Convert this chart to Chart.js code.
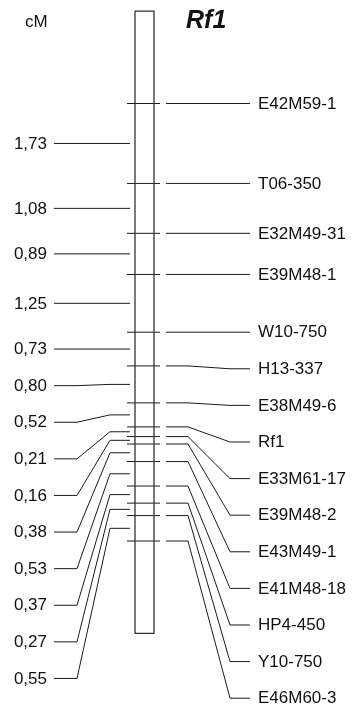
<!DOCTYPE html>
<html>
<head>
<meta charset="utf-8">
<script src="https://cdn.jsdelivr.net/npm/chart.js@4.4.1/dist/chart.umd.min.js"></script>
<style>
  html, body { margin: 0; padding: 0; background: #fff; }
  #wrap { width: 353px; height: 707px; position: relative; }
</style>
</head>
<body>
<div id="wrap"><canvas id="mapChart"></canvas></div>
<script>
// linkage group Rf1, marker names top to bottom
const markers = [
  "E42M59-1", "T06-350", "E32M49-31", "E39M48-1", "W10-750", "H13-337",
  "E38M49-6", "Rf1", "E33M61-17", "E39M48-2", "E43M49-1", "E41M48-18",
  "HP4-450", "Y10-750", "E46M60-3"
];
// marker positions along the group (cM)
const markerCM = [0, 1.73, 2.81, 3.70, 4.95, 5.68, 6.48, 7.00, 7.21, 7.37, 7.75, 8.28, 8.65, 8.92, 9.47];
// distances between neighbouring markers (cM)
const intervalCM = [1.73, 1.08, 0.89, 1.25, 0.73, 0.80, 0.52, 0.21, 0.16, 0.38, 0.53, 0.37, 0.27, 0.55];

const TITLE = "Rf1";
const UNIT = "cM";

// layout (x in canvas px, y scale in cM)
const PX_PER_CM = 46.2;
const ZERO_PX = 103.5;
const H = 707, W = 353;
const CHROM = { left: 135, right: 154, top: -2.0, bottom: 11.47 };
const TICK = { left: 127, right: 160 };
const RIGHT = { start: 166, bend1: 188, bend2: 230, end: 250, text: 258 };
const LEFT = { start: 130, bend1: 110, bend2: 77, end: 54, text: 47 };
const LABEL_GAP = 36.6 / PX_PER_CM;
const LINE = "#1a1a1a";
const FONT = "'Liberation Sans', Arial, sans-serif";

function spread(vals) {
  const out = [];
  vals.forEach((v, i) => out.push(i === 0 ? v : Math.max(v, out[i - 1] + LABEL_GAP)));
  return out;
}

const rightLabelY = spread(markerCM);
const mids = intervalCM.map((d, i) => (markerCM[i] + markerCM[i + 1]) / 2);
const leftLabelY = spread(mids);

function seg(points, width) {
  return {
    data: points.map(p => ({ x: p[0], y: p[1] })),
    showLine: true, borderColor: LINE, borderWidth: width || 1,
    pointRadius: 0, tension: 0, fill: false
  };
}

const datasets = [];
datasets.push({ ...seg([
  [CHROM.left, CHROM.top], [CHROM.right, CHROM.top], [CHROM.right, CHROM.bottom],
  [CHROM.left, CHROM.bottom], [CHROM.left, CHROM.top]
], 1.3), borderColor: "#333" });

markerCM.forEach((m, i) => {
  datasets.push(seg([[TICK.left, m], [TICK.right, m]]));
  const l = rightLabelY[i];
  datasets.push(seg([[RIGHT.start, m], [RIGHT.bend1, m], [RIGHT.bend2, l], [RIGHT.end, l]]));
});

mids.forEach((m, i) => {
  const l = leftLabelY[i];
  datasets.push(seg([[LEFT.start, m], [LEFT.bend1, m], [LEFT.bend2, l], [LEFT.end, l]]));
});

const textPlugin = {
  id: "mapText",
  afterDatasetsDraw(chart) {
    const { ctx, scales: { x, y } } = chart;
    ctx.save();
    ctx.fillStyle = "#111";
    ctx.textBaseline = "middle";
    ctx.font = "17px " + FONT;
    ctx.textAlign = "left";
    markers.forEach((name, i) => ctx.fillText(name, x.getPixelForValue(RIGHT.text), y.getPixelForValue(rightLabelY[i]) + 0.5));
    ctx.textAlign = "right";
    intervalCM.forEach((d, i) => ctx.fillText(d.toFixed(2).replace(".", ","), x.getPixelForValue(LEFT.text), y.getPixelForValue(leftLabelY[i]) + 0.5));
    ctx.textAlign = "left";
    ctx.fillText(UNIT, 25, 22);
    ctx.font = "italic bold 25px " + FONT;
    ctx.fillText(TITLE, 186, 21);
    ctx.restore();
  }
};

new Chart(document.getElementById("mapChart"), {
  type: "scatter",
  data: { datasets },
  options: {
    responsive: true,
    maintainAspectRatio: false,
    animation: false,
    layout: { padding: 0, autoPadding: false },
    plugins: { legend: { display: false }, tooltip: { enabled: false } },
    scales: {
      x: { type: "linear", display: false, min: 0, max: W },
      y: { type: "linear", display: false, reverse: true,
           min: -ZERO_PX / PX_PER_CM, max: (H - ZERO_PX) / PX_PER_CM }
    }
  },
  plugins: [textPlugin]
});
</script>
</body>
</html>
